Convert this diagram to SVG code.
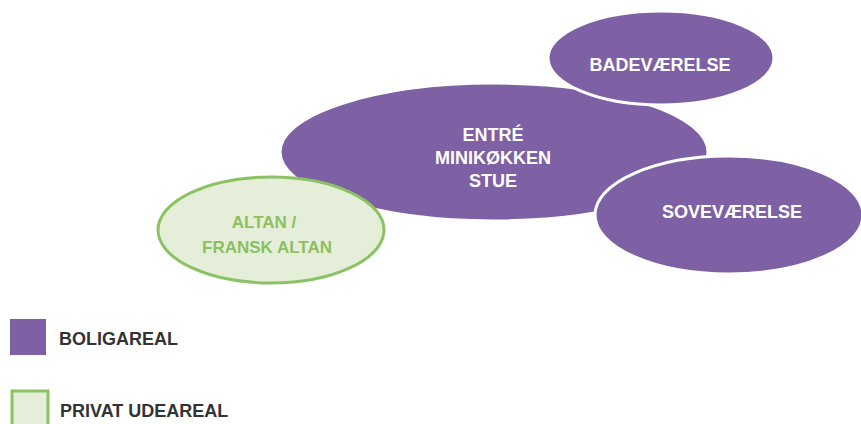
<svg xmlns="http://www.w3.org/2000/svg" width="861" height="424" viewBox="0 0 861 424">
<style>
.room{fill:#7e61a4;stroke:#ffffff;stroke-width:3}
.out{fill:#e5eed8;stroke:#8cc263;stroke-width:3}
.wt{fill:#ffffff;font-family:"Liberation Sans",Arial,sans-serif;font-weight:bold;font-size:18px;text-anchor:middle}
.gt{fill:#8dbf5f;font-family:"Liberation Sans",Arial,sans-serif;font-weight:bold;font-size:17px;text-anchor:middle}
.lt{fill:#333333;font-family:"Liberation Sans",Arial,sans-serif;font-weight:bold;font-size:18px}
</style>
<rect width="861" height="424" fill="#ffffff"/>
<g id="connectors"></g>
<g id="stue">
<ellipse class="room" cx="494" cy="152" rx="214" ry="69"/>
<text class="wt" x="493" y="141">ENTRÉ</text>
<text class="wt" x="493" y="164">MINIKØKKEN</text>
<text class="wt" x="493" y="187">STUE</text>
</g>
<g id="badevaerelse">
<ellipse class="room" cx="661" cy="58" rx="113" ry="47"/>
<text class="wt" x="660" y="71">BADEVÆRELSE</text>
</g>
<g id="sovevaerelse">
<ellipse class="room" cx="729" cy="215" rx="134" ry="59"/>
<text class="wt" x="732" y="218">SOVEVÆRELSE</text>
</g>
<g id="altan">
<ellipse class="out" cx="271" cy="230" rx="113" ry="53"/>
<text class="gt" x="264" y="228">ALTAN /</text>
<text class="gt" x="267" y="253">FRANSK ALTAN</text>
</g>
<g id="legend-bolig">
<rect x="10" y="319" width="36" height="36" fill="#7e61a4"/>
<text class="lt" x="59" y="345">BOLIGAREAL</text>
</g>
<g id="legend-ude">
<rect x="12" y="391" width="36" height="40" fill="#e5eed8" stroke="#8cc263" stroke-width="3"/>
<text class="lt" x="60" y="417">PRIVAT UDEAREAL</text>
</g>
</svg>
